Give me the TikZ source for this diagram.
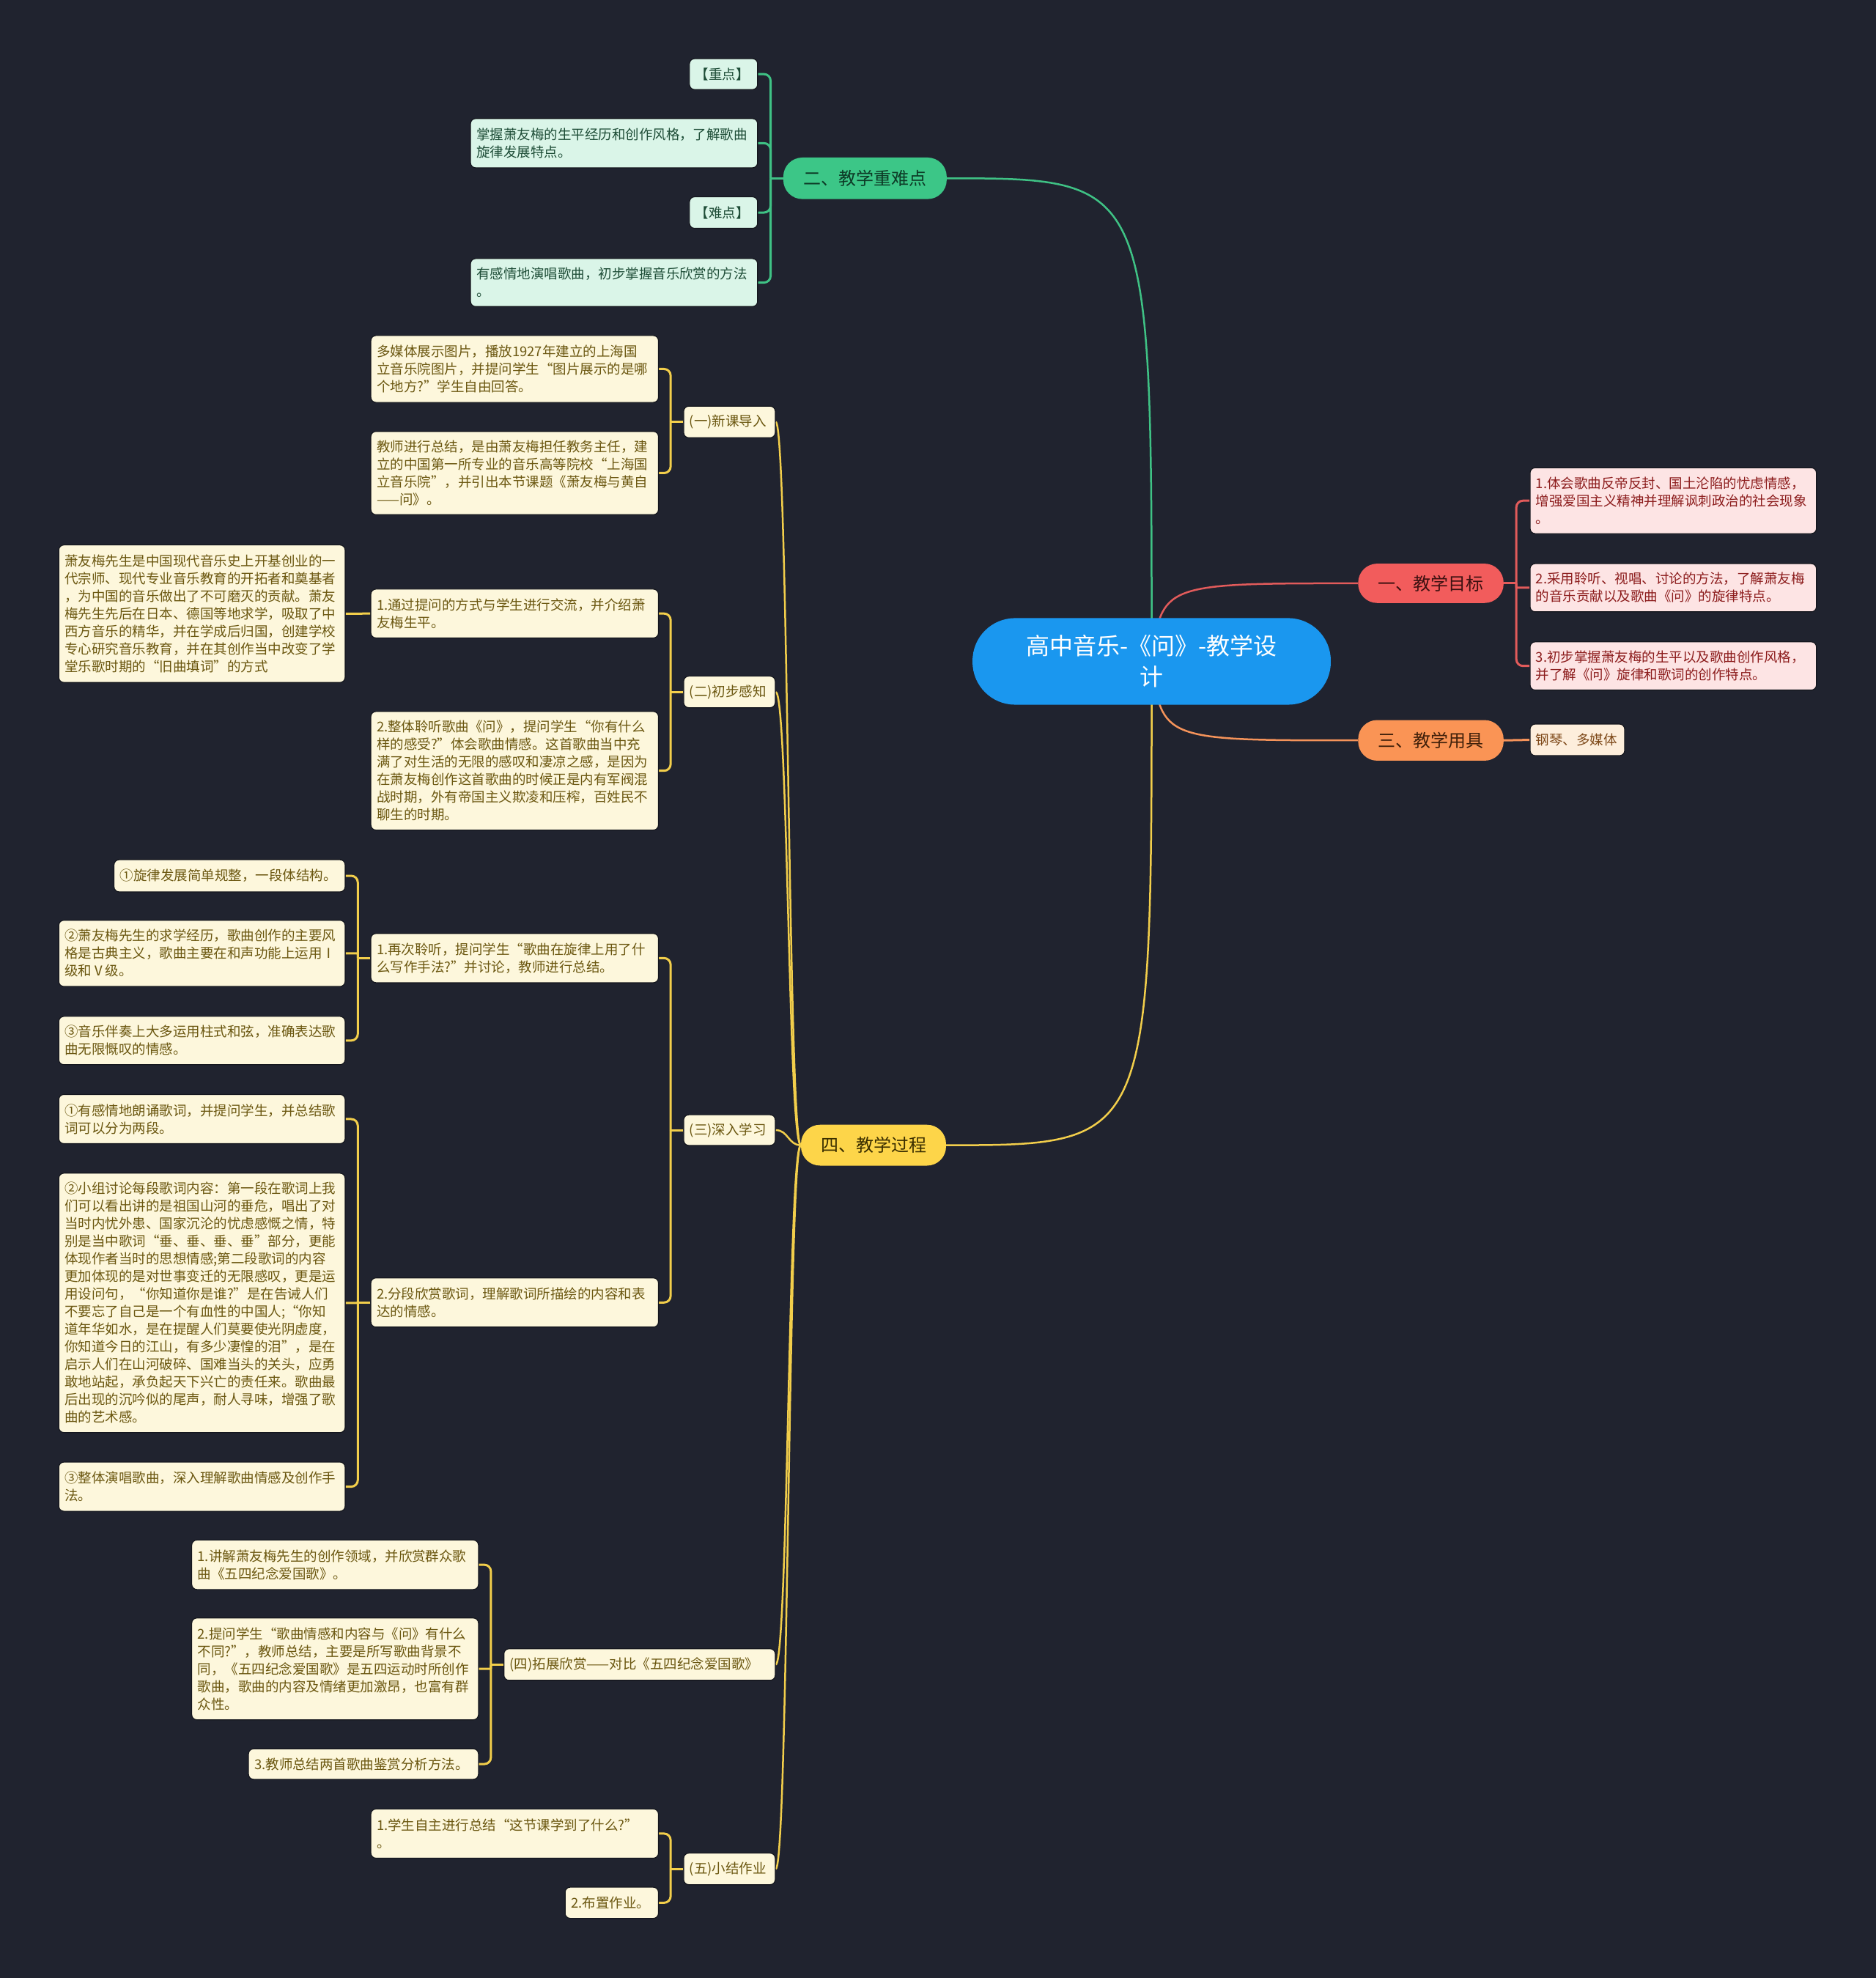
\documentclass[tikz,border=0pt]{standalone}
\usepackage{fontspec}
\setmainfont{Noto Sans CJK SC}
\usetikzlibrary{calc}
\definecolor{bgc}{HTML}{20232F}
\definecolor{edgec}{HTML}{14161D}
\definecolor{cRoot}{HTML}{1A97EF}
\definecolor{cRed}{HTML}{F25C5C}
\definecolor{cRedT}{HTML}{3D1111}
\definecolor{cOrg}{HTML}{FA9455}
\definecolor{cOrgT}{HTML}{40200A}
\definecolor{cGrn}{HTML}{3CC687}
\definecolor{cGrnT}{HTML}{0D3A26}
\definecolor{cYlw}{HTML}{FDD549}
\definecolor{cYlwT}{HTML}{3A2E00}
\definecolor{fY}{HTML}{FDF7DC}
\definecolor{tY}{HTML}{6B5710}
\definecolor{fP}{HTML}{FDE4E4}
\definecolor{tP}{HTML}{8C1C1C}
\definecolor{fG}{HTML}{DAF5E8}
\definecolor{tG}{HTML}{1E4D37}
\definecolor{fO}{HTML}{FDEEDC}
\definecolor{tO}{HTML}{7D4818}
\definecolor{lG}{HTML}{3FC285}
\definecolor{lR}{HTML}{E25B5B}
\definecolor{lO}{HTML}{F5935A}
\definecolor{lY}{HTML}{F2CE4B}
\pgfdeclarelayer{canvas}
\pgfdeclarelayer{edges}
\pgfsetlayers{canvas,edges,main}
\tikzset{
  ybox/.style={fill=fY, text=tY, draw=edgec, line width=1.2pt, rounded corners=7pt, align=left, inner xsep=8pt, inner ysep=0pt, font=\fontsize{18.5}{24}\selectfont},
  pbox/.style={ybox, fill=fP, text=tP},
  gbox/.style={ybox, fill=fG, text=tG},
  obox/.style={ybox, fill=fO, text=tO},
  pillst/.style={rounded corners=26pt, align=center, inner xsep=8pt, inner ysep=0pt, font=\fontsize{24}{28}\selectfont},
  redpill/.style={pillst, fill=cRed, text=cRedT},
  orgpill/.style={pillst, fill=cOrg, text=cOrgT},
  grnpill/.style={pillst, fill=cGrn, text=cGrnT},
  ylwpill/.style={pillst, fill=cYlw, text=cYlwT},
  rootst/.style={fill=cRoot, text=white, rounded corners=58pt, align=center, inner xsep=8pt, inner ysep=0pt, font=\fontsize{32}{42}\selectfont},
  gcurve/.style={draw=lG, line width=2.5pt},
  rcurve/.style={draw=lR, line width=2.5pt},
  ocurve/.style={draw=lO, line width=2.5pt},
  ycurve/.style={draw=lY, line width=2.5pt},
  gb/.style={draw=lG, line width=3pt},
  rb/.style={draw=lR, line width=3pt},
  ob/.style={draw=lO, line width=3pt},
  yb/.style={draw=lY, line width=3pt},
}
% #1 style, #2 name, #3 x1, #4 y1, #5 x2, #6 y2, #7 text
\newcommand\leafbox[7]{%
  \pgfmathsetmacro\lbw{(#5-#3)*1.7216}%
  \pgfmathsetmacro\lbh{(#6-#4)*1.7216}%
  \pgfmathsetmacro\lbt{\lbw-16}%
  \node[#1, minimum width=\lbw pt, minimum height=\lbh pt, text width=\lbt pt] (#2) at ({(#3+#5)/2},{(#4+#6)/2}) {#7};%
}
\newcommand\lbr[4][9pt]{%
  \draw[#2] (#3.west) -- ++(-17.2pt,0pt);
  \draw[#2,rounded corners=#1] ([xshift=-17.2pt]#3.west) |- (#4.east);%
}
\newcommand\rbr[4][9pt]{%
  \draw[#2] (#3.east) -- ++(17.2pt,0pt);
  \draw[#2,rounded corners=#1] ([xshift=17.2pt]#3.east) |- (#4.west);%
}
\begin{document}
\begin{tikzpicture}[x=1.7216pt,y=-1.7216pt]
\begin{pgfonlayer}{canvas}
\fill[bgc] (0,0) rectangle (1487,1568);
\end{pgfonlayer}
\useasboundingbox (0,0) rectangle (1487,1568);

% main nodes
\leafbox{rootst}{root}{771}{490}{1055}{558.6}{高中音乐-《问》-教学设\\计}
\leafbox{redpill}{n1}{1076.7}{446.8}{1192}{478}{一、教学目标}
\leafbox{orgpill}{n3}{1076.7}{570.8}{1192}{603}{三、教学用具}
\leafbox{grnpill}{n2}{621}{124.9}{750.5}{157.8}{二、教学重难点}
\leafbox{ylwpill}{n4}{635}{891.6}{750}{924}{四、教学过程}

% red children
\leafbox{pbox}{r1}{1213}{370.8}{1440}{423}{1.体会歌曲反帝反封、国土沦陷的忧虑情感，\\增强爱国主义精神并理解讽刺政治的社会现象\\。}
\leafbox{pbox}{r2}{1213}{446.8}{1440}{485}{2.采用聆听、视唱、讨论的方法，了解萧友梅\\的音乐贡献以及歌曲《问》的旋律特点。}
\leafbox{pbox}{r3}{1213}{508.8}{1440}{547}{3.初步掌握萧友梅的生平以及歌曲创作风格，\\并了解《问》旋律和歌词的创作特点。}
% orange child
\leafbox{obox}{o1}{1213}{574}{1288}{599}{钢琴、多媒体}

% green children
\leafbox{gbox}{g1}{546.6}{46.5}{600.6}{71}{【重点】}
\leafbox{gbox}{g2}{373}{94}{600.6}{133}{掌握萧友梅的生平经历和创作风格，了解歌曲\\旋律发展特点。}
\leafbox{gbox}{g3}{546.6}{156}{600.6}{181}{【难点】}
\leafbox{gbox}{g4}{373}{205}{600.6}{243}{有感情地演唱歌曲，初步掌握音乐欣赏的方法\\。}

% yellow sub heads
\leafbox{ybox}{s1}{542}{322}{614.6}{347}{(一)新课导入}
\leafbox{ybox}{s2}{542}{536}{614.6}{561}{(二)初步感知}
\leafbox{ybox}{s3}{542}{883.7}{614.6}{908}{(三)深入学习}
\leafbox{ybox}{s4}{399.5}{1307}{614.6}{1332}{(四)拓展欣赏——对比《五四纪念爱国歌》}
\leafbox{ybox}{s5}{542}{1469}{614.6}{1494}{(五)小结作业}

% (一)
\leafbox{ybox}{a1}{294}{266}{522}{319}{多媒体展示图片，播放1927年建立的上海国\\立音乐院图片，并提问学生“图片展示的是哪\\个地方?”学生自由回答。}
\leafbox{ybox}{a2}{294}{342}{522}{408}{教师进行总结，是由萧友梅担任教务主任，建\\立的中国第一所专业的音乐高等院校“上海国\\立音乐院”，并引出本节课题《萧友梅与黄自\\——问》。}

% (二)
\leafbox{ybox}{b1}{294}{467}{522}{505.7}{1.通过提问的方式与学生进行交流，并介绍萧\\友梅生平。}
\leafbox{ybox}{b1b}{46.6}{432}{273.6}{541}{萧友梅先生是中国现代音乐史上开基创业的一\\代宗师、现代专业音乐教育的开拓者和奠基者\\，为中国的音乐做出了不可磨灭的贡献。萧友\\梅先生先后在日本、德国等地求学，吸取了中\\西方音乐的精华，并在学成后归国，创建学校\\专心研究音乐教育，并在其创作当中改变了学\\堂乐歌时期的“旧曲填词”的方式}
\leafbox{ybox}{b2}{294}{564}{522}{658}{2.整体聆听歌曲《问》，提问学生“你有什么\\样的感受?”体会歌曲情感。这首歌曲当中充\\满了对生活的无限的感叹和凄凉之感，是因为\\在萧友梅创作这首歌曲的时候正是内有军阀混\\战时期，外有帝国主义欺凌和压榨，百姓民不\\聊生的时期。}

% (三)
\leafbox{ybox}{c1}{294}{740}{522}{779}{1.再次聆听，提问学生“歌曲在旋律上用了什\\么写作手法?”并讨论，教师进行总结。}
\leafbox{ybox}{c1a}{90.4}{681.5}{273.6}{707}{①旋律发展简单规整，一段体结构。}
\leafbox{ybox}{c1b}{46.6}{729.5}{273.6}{782}{②萧友梅先生的求学经历，歌曲创作的主要风\\格是古典主义，歌曲主要在和声功能上运用Ⅰ\\级和Ⅴ级。}
\leafbox{ybox}{c1c}{46.6}{805.7}{273.6}{844}{③音乐伴奏上大多运用柱式和弦，准确表达歌\\曲无限慨叹的情感。}
\leafbox{ybox}{c2}{294}{1013}{522}{1052}{2.分段欣赏歌词，理解歌词所描绘的内容和表\\达的情感。}
\leafbox{ybox}{c2a}{46.6}{867.6}{273.6}{906.6}{①有感情地朗诵歌词，并提问学生，并总结歌\\词可以分为两段。}
\leafbox{ybox}{c2b}{46.6}{930}{273.6}{1135.6}{②小组讨论每段歌词内容：第一段在歌词上我\\们可以看出讲的是祖国山河的垂危，唱出了对\\当时内忧外患、国家沉沦的忧虑感慨之情，特\\别是当中歌词“垂、垂、垂、垂”部分，更能\\体现作者当时的思想情感;第二段歌词的内容\\更加体现的是对世事变迁的无限感叹，更是运\\用设问句，“你知道你是谁?”是在告诫人们\\不要忘了自己是一个有血性的中国人;“你知\\道年华如水，是在提醒人们莫要使光阴虚度，\\你知道今日的江山，有多少凄惶的泪”，是在\\启示人们在山河破碎、国难当头的关头，应勇\\敢地站起，承负起天下兴亡的责任来。歌曲最\\后出现的沉吟似的尾声，耐人寻味，增强了歌\\曲的艺术感。}
\leafbox{ybox}{c2c}{46.6}{1159}{273.6}{1198}{③整体演唱歌曲，深入理解歌曲情感及创作手\\法。}

% (四)
\leafbox{ybox}{d1}{152}{1220.8}{379.3}{1260}{1.讲解萧友梅先生的创作领域，并欣赏群众歌\\曲《五四纪念爱国歌》。}
\leafbox{ybox}{d2}{152}{1282.6}{379.3}{1363.3}{2.提问学生“歌曲情感和内容与《问》有什么\\不同?”，教师总结，主要是所写歌曲背景不\\同，《五四纪念爱国歌》是五四运动时所创作\\歌曲，歌曲的内容及情绪更加激昂，也富有群\\众性。}
\leafbox{ybox}{d3}{197}{1386.3}{379.3}{1410.5}{3.教师总结两首歌曲鉴赏分析方法。}

% (五)
\leafbox{ybox}{e1}{294}{1434}{522}{1473}{1.学生自主进行总结“这节课学到了什么?”\\。}
\leafbox{ybox}{e2}{448}{1496}{522}{1520.7}{2.布置作业。}

\begin{pgfonlayer}{edges}
% main curves
\draw[gcurve] (root.center) .. controls (root.center |- n2.east) .. (n2.east);
\draw[ycurve] (root.center) .. controls (root.center |- n4.east) .. (n4.east);
\draw[rcurve] (root.center) .. controls ($(root.center |- n1.west)+(8,0)$) .. (n1.west);
\draw[ocurve] (root.center) .. controls ($(root.center |- n3.west)+(8,0)$) .. (n3.west);
% red brackets
\rbr{rb}{n1}{r1}
\rbr[1pt]{rb}{n1}{r2}
\rbr{rb}{n1}{r3}
\draw[ob] (n3.east) -- (o1.west);
% green brackets
\lbr{gb}{n2}{g1}
\lbr{gb}{n2}{g2}
\lbr{gb}{n2}{g3}
\lbr{gb}{n2}{g4}
% yellow level 2
\foreach \s in {s1,s2,s3,s4,s5}{
  \draw[ycurve] (n4.west) .. controls ($(n4.west)+(-10,0)$) and ($(\s.east)+(10,0)$) .. (\s.east);
}
% yellow brackets
\lbr{yb}{s1}{a1}
\lbr{yb}{s1}{a2}
\lbr{yb}{s2}{b1}
\lbr{yb}{s2}{b2}
\draw[yb] (b1.west) -- (b1b.east);
\lbr{yb}{s3}{c1}
\lbr{yb}{s3}{c2}
\lbr{yb}{c1}{c1a}
\lbr[1pt]{yb}{c1}{c1b}
\lbr{yb}{c1}{c1c}
\lbr{yb}{c2}{c2a}
\lbr[1pt]{yb}{c2}{c2b}
\lbr{yb}{c2}{c2c}
\lbr{yb}{s4}{d1}
\lbr[1pt]{yb}{s4}{d2}
\lbr{yb}{s4}{d3}
\lbr{yb}{s5}{e1}
\lbr{yb}{s5}{e2}
\end{pgfonlayer}
\end{tikzpicture}
\end{document}
